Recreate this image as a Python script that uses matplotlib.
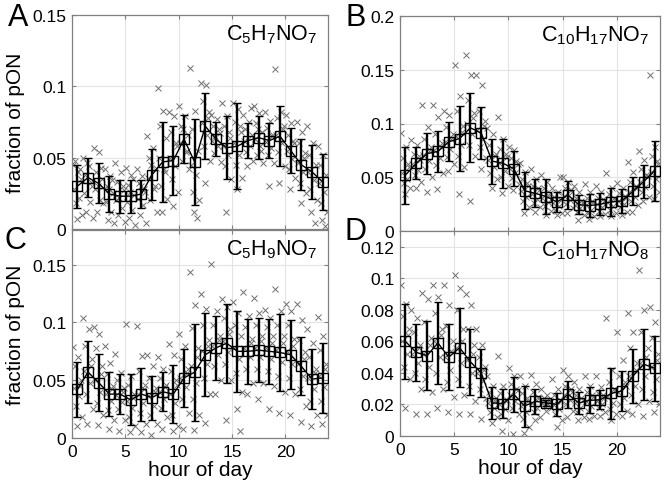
import matplotlib
matplotlib.use("Agg")
import matplotlib.pyplot as plt
import numpy as np

plt.rcParams['font.family'] = ['Liberation Sans', 'DejaVu Sans']
plt.rcParams['mathtext.fontset'] = 'custom'
plt.rcParams['mathtext.rm'] = 'Liberation Sans'
plt.rcParams['mathtext.it'] = 'Liberation Sans:italic'

hours = [h + 0.5 for h in range(24)]

# ---- Panel A: C5H7NO7 ----
A_mean = [0.030, 0.036, 0.032, 0.0245, 0.023, 0.023, 0.0245, 0.038, 0.047, 0.048,
          0.063, 0.047, 0.072, 0.063, 0.057, 0.058, 0.062, 0.064, 0.062, 0.065,
          0.055, 0.045, 0.040, 0.033]
A_std = [0.015, 0.0135, 0.014, 0.0127, 0.0116, 0.0116, 0.010, 0.018, 0.028, 0.0245,
         0.017, 0.030, 0.023, 0.012, 0.022, 0.030, 0.012, 0.015, 0.012, 0.021,
         0.016, 0.018, 0.019, 0.0195]
A_scatter = [
    [0.045, 0.040, 0.048, 0.035, 0.028, 0.022, 0.018, 0.010, 0.007, 0.042],
    [0.050, 0.044, 0.038, 0.030, 0.025, 0.019, 0.012, 0.008, 0.046, 0.033],
    [0.057, 0.054, 0.040, 0.035, 0.028, 0.020, 0.012, 0.018, 0.030, 0.043],
    [0.042, 0.037, 0.030, 0.025, 0.019, 0.012, 0.006, 0.004, 0.028, 0.034],
    [0.046, 0.040, 0.033, 0.027, 0.020, 0.015, 0.010, 0.005, 0.022, 0.030],
    [0.043, 0.038, 0.031, 0.024, 0.019, 0.013, 0.008, 0.003, 0.026, 0.035],
    [0.042, 0.037, 0.032, 0.026, 0.021, 0.017, 0.010, 0.004, 0.030, 0.028],
    [0.065, 0.057, 0.050, 0.043, 0.036, 0.028, 0.020, 0.012, 0.045, 0.030],
    [0.099, 0.083, 0.072, 0.064, 0.050, 0.042, 0.030, 0.021, 0.012, 0.040],
    [0.082, 0.079, 0.068, 0.058, 0.050, 0.044, 0.035, 0.026, 0.016, 0.060],
    [0.086, 0.079, 0.072, 0.066, 0.060, 0.054, 0.048, 0.042, 0.070, 0.055],
    [0.113, 0.083, 0.070, 0.055, 0.045, 0.038, 0.026, 0.020, 0.012, 0.008],
    [0.102, 0.101, 0.090, 0.082, 0.074, 0.066, 0.058, 0.048, 0.032, 0.078],
    [0.080, 0.077, 0.072, 0.067, 0.062, 0.058, 0.053, 0.047, 0.065, 0.070],
    [0.088, 0.079, 0.072, 0.064, 0.058, 0.052, 0.044, 0.035, 0.012, 0.068],
    [0.088, 0.084, 0.075, 0.068, 0.060, 0.052, 0.045, 0.036, 0.028, 0.072],
    [0.080, 0.075, 0.070, 0.066, 0.062, 0.058, 0.054, 0.048, 0.044, 0.085],
    [0.086, 0.081, 0.074, 0.068, 0.063, 0.058, 0.052, 0.046, 0.070, 0.055],
    [0.082, 0.076, 0.071, 0.066, 0.061, 0.057, 0.052, 0.046, 0.030, 0.065],
    [0.112, 0.082, 0.078, 0.072, 0.066, 0.060, 0.054, 0.044, 0.032, 0.070],
    [0.080, 0.074, 0.066, 0.060, 0.055, 0.049, 0.042, 0.036, 0.028, 0.062],
    [0.075, 0.068, 0.060, 0.053, 0.046, 0.040, 0.032, 0.025, 0.018, 0.050],
    [0.072, 0.060, 0.052, 0.045, 0.040, 0.034, 0.028, 0.020, 0.012, 0.004],
    [0.058, 0.052, 0.045, 0.038, 0.032, 0.026, 0.018, 0.012, 0.006, 0.002],
]

# ---- Panel B: C10H17NO7 ----
B_mean = [0.052, 0.063, 0.072, 0.074, 0.083, 0.086, 0.096, 0.091, 0.065, 0.063,
          0.058, 0.0375, 0.035, 0.032, 0.027, 0.0335, 0.0245, 0.0236, 0.025, 0.027,
          0.028, 0.037, 0.046, 0.056]
B_std = [0.0265, 0.015, 0.019, 0.019, 0.018, 0.030, 0.032, 0.024, 0.021, 0.023,
         0.016, 0.017, 0.013, 0.016, 0.009, 0.013, 0.009, 0.011, 0.0105, 0.013,
         0.011, 0.013, 0.0155, 0.028]
B_scatter = [
    [0.091, 0.078, 0.068, 0.060, 0.054, 0.048, 0.045, 0.040, 0.034, 0.062],
    [0.085, 0.080, 0.072, 0.066, 0.062, 0.057, 0.052, 0.046, 0.040, 0.070],
    [0.117, 0.097, 0.086, 0.078, 0.071, 0.065, 0.058, 0.050, 0.036, 0.075],
    [0.117, 0.106, 0.090, 0.082, 0.075, 0.068, 0.061, 0.054, 0.039, 0.078],
    [0.112, 0.108, 0.097, 0.090, 0.083, 0.076, 0.069, 0.062, 0.056, 0.086],
    [0.154, 0.126, 0.112, 0.098, 0.088, 0.080, 0.070, 0.060, 0.034, 0.092],
    [0.164, 0.145, 0.122, 0.110, 0.100, 0.090, 0.080, 0.070, 0.028, 0.105],
    [0.145, 0.136, 0.112, 0.102, 0.094, 0.086, 0.078, 0.068, 0.058, 0.098],
    [0.096, 0.090, 0.080, 0.072, 0.066, 0.060, 0.054, 0.048, 0.040, 0.070],
    [0.106, 0.086, 0.076, 0.069, 0.063, 0.056, 0.050, 0.042, 0.035, 0.072],
    [0.078, 0.075, 0.068, 0.062, 0.058, 0.054, 0.049, 0.044, 0.038, 0.065],
    [0.063, 0.055, 0.048, 0.042, 0.037, 0.032, 0.028, 0.022, 0.017, 0.045],
    [0.058, 0.048, 0.042, 0.038, 0.034, 0.030, 0.026, 0.022, 0.018, 0.040],
    [0.052, 0.046, 0.040, 0.035, 0.031, 0.027, 0.023, 0.019, 0.015, 0.033],
    [0.040, 0.036, 0.032, 0.029, 0.026, 0.023, 0.020, 0.017, 0.015, 0.050],
    [0.050, 0.046, 0.040, 0.036, 0.033, 0.029, 0.025, 0.021, 0.017, 0.038],
    [0.042, 0.036, 0.031, 0.027, 0.024, 0.021, 0.018, 0.015, 0.010, 0.028],
    [0.044, 0.036, 0.031, 0.027, 0.024, 0.020, 0.017, 0.014, 0.011, 0.028],
    [0.042, 0.036, 0.031, 0.028, 0.025, 0.022, 0.019, 0.016, 0.014, 0.030],
    [0.054, 0.040, 0.034, 0.030, 0.027, 0.023, 0.020, 0.017, 0.014, 0.031],
    [0.045, 0.040, 0.035, 0.031, 0.028, 0.025, 0.022, 0.018, 0.015, 0.033],
    [0.064, 0.055, 0.046, 0.040, 0.036, 0.032, 0.028, 0.024, 0.018, 0.042],
    [0.074, 0.066, 0.058, 0.051, 0.046, 0.041, 0.036, 0.032, 0.028, 0.052],
    [0.145, 0.078, 0.070, 0.062, 0.055, 0.048, 0.042, 0.036, 0.030, 0.065],
]

# ---- Panel C: C5H9NO7 ----
C_mean = [0.042, 0.057, 0.048, 0.038, 0.038, 0.033, 0.038, 0.035, 0.040, 0.038,
          0.052, 0.057, 0.072, 0.078, 0.082, 0.075, 0.075, 0.076, 0.075, 0.074,
          0.072, 0.062, 0.051, 0.052]
C_std = [0.024, 0.027, 0.025, 0.019, 0.017, 0.022, 0.023, 0.019, 0.017, 0.025,
         0.025, 0.042, 0.036, 0.028, 0.034, 0.035, 0.028, 0.0275, 0.028, 0.033,
         0.030, 0.025, 0.026, 0.030]
C_scatter = [
    [0.079, 0.070, 0.062, 0.050, 0.043, 0.036, 0.028, 0.018, 0.010, 0.045],
    [0.104, 0.094, 0.080, 0.068, 0.058, 0.048, 0.038, 0.025, 0.012, 0.062],
    [0.096, 0.090, 0.078, 0.062, 0.050, 0.040, 0.030, 0.020, 0.011, 0.055],
    [0.080, 0.065, 0.055, 0.045, 0.038, 0.032, 0.024, 0.016, 0.008, 0.042],
    [0.073, 0.056, 0.050, 0.043, 0.037, 0.031, 0.025, 0.016, 0.006, 0.040],
    [0.099, 0.054, 0.046, 0.038, 0.032, 0.026, 0.018, 0.010, 0.005, 0.035],
    [0.097, 0.071, 0.058, 0.046, 0.038, 0.030, 0.022, 0.012, 0.005, 0.042],
    [0.072, 0.062, 0.052, 0.043, 0.036, 0.028, 0.020, 0.012, 0.003, 0.040],
    [0.070, 0.060, 0.052, 0.046, 0.040, 0.034, 0.026, 0.018, 0.008, 0.044],
    [0.081, 0.072, 0.058, 0.046, 0.038, 0.030, 0.020, 0.010, 0.006, 0.050],
    [0.090, 0.080, 0.068, 0.060, 0.052, 0.044, 0.034, 0.022, 0.008, 0.056],
    [0.144, 0.115, 0.095, 0.078, 0.062, 0.048, 0.034, 0.020, 0.007, 0.070],
    [0.125, 0.112, 0.098, 0.085, 0.075, 0.064, 0.052, 0.038, 0.013, 0.080],
    [0.151, 0.110, 0.098, 0.088, 0.080, 0.072, 0.062, 0.050, 0.038, 0.085],
    [0.120, 0.113, 0.104, 0.094, 0.084, 0.074, 0.064, 0.050, 0.016, 0.090],
    [0.118, 0.108, 0.098, 0.088, 0.078, 0.068, 0.056, 0.040, 0.025, 0.006],
    [0.126, 0.106, 0.096, 0.086, 0.078, 0.070, 0.060, 0.048, 0.038, 0.082],
    [0.121, 0.108, 0.098, 0.088, 0.078, 0.070, 0.060, 0.048, 0.034, 0.084],
    [0.111, 0.104, 0.096, 0.088, 0.078, 0.068, 0.058, 0.045, 0.025, 0.082],
    [0.129, 0.110, 0.098, 0.088, 0.076, 0.066, 0.054, 0.040, 0.022, 0.082],
    [0.116, 0.110, 0.098, 0.086, 0.075, 0.064, 0.052, 0.038, 0.020, 0.080],
    [0.116, 0.102, 0.085, 0.074, 0.064, 0.054, 0.042, 0.028, 0.014, 0.068],
    [0.094, 0.082, 0.070, 0.060, 0.052, 0.042, 0.032, 0.020, 0.010, 0.056],
    [0.105, 0.088, 0.076, 0.064, 0.054, 0.044, 0.032, 0.020, 0.012, 0.060],
]

# ---- Panel D: C10H17NO8 ----
D_mean = [0.060, 0.053, 0.051, 0.059, 0.050, 0.056, 0.047, 0.040, 0.021, 0.0205,
          0.0265, 0.019, 0.022, 0.021, 0.020, 0.0265, 0.021, 0.0226, 0.023, 0.027,
          0.0286, 0.038, 0.0455, 0.043]
D_std = [0.024, 0.018, 0.022, 0.026, 0.021, 0.025, 0.021, 0.015, 0.010, 0.009,
         0.011, 0.013, 0.008, 0.002, 0.007, 0.0085, 0.007, 0.0083, 0.006, 0.016,
         0.0125, 0.017, 0.0225, 0.0205]
D_scatter = [
    [0.096, 0.084, 0.076, 0.068, 0.060, 0.052, 0.044, 0.036, 0.018, 0.064],
    [0.080, 0.075, 0.066, 0.058, 0.052, 0.046, 0.040, 0.030, 0.014, 0.056],
    [0.091, 0.087, 0.072, 0.062, 0.052, 0.044, 0.036, 0.028, 0.014, 0.058],
    [0.096, 0.088, 0.078, 0.068, 0.060, 0.050, 0.040, 0.030, 0.018, 0.064],
    [0.096, 0.083, 0.070, 0.060, 0.050, 0.042, 0.034, 0.025, 0.015, 0.054],
    [0.102, 0.094, 0.080, 0.068, 0.056, 0.046, 0.036, 0.026, 0.014, 0.060],
    [0.090, 0.083, 0.068, 0.058, 0.048, 0.040, 0.032, 0.022, 0.014, 0.052],
    [0.068, 0.058, 0.050, 0.044, 0.040, 0.035, 0.030, 0.024, 0.011, 0.042],
    [0.038, 0.032, 0.028, 0.024, 0.021, 0.018, 0.015, 0.012, 0.008, 0.022],
    [0.051, 0.032, 0.027, 0.023, 0.020, 0.017, 0.014, 0.010, 0.003, 0.022],
    [0.043, 0.038, 0.033, 0.029, 0.026, 0.022, 0.018, 0.014, 0.001, 0.030],
    [0.038, 0.032, 0.027, 0.022, 0.019, 0.015, 0.011, 0.006, 0.002, 0.024],
    [0.039, 0.033, 0.028, 0.024, 0.021, 0.018, 0.015, 0.012, 0.010, 0.025],
    [0.030, 0.026, 0.024, 0.022, 0.021, 0.020, 0.019, 0.018, 0.016, 0.023],
    [0.036, 0.030, 0.026, 0.022, 0.020, 0.017, 0.014, 0.010, 0.006, 0.023],
    [0.042, 0.038, 0.032, 0.028, 0.026, 0.023, 0.020, 0.016, 0.012, 0.030],
    [0.034, 0.030, 0.026, 0.023, 0.021, 0.018, 0.015, 0.012, 0.010, 0.024],
    [0.038, 0.032, 0.028, 0.025, 0.022, 0.019, 0.016, 0.013, 0.011, 0.026],
    [0.038, 0.031, 0.027, 0.024, 0.022, 0.020, 0.018, 0.015, 0.013, 0.026],
    [0.075, 0.042, 0.034, 0.029, 0.025, 0.021, 0.017, 0.014, 0.010, 0.030],
    [0.066, 0.048, 0.038, 0.032, 0.028, 0.024, 0.020, 0.016, 0.013, 0.034],
    [0.078, 0.066, 0.056, 0.046, 0.038, 0.032, 0.026, 0.020, 0.014, 0.042],
    [0.105, 0.080, 0.066, 0.056, 0.046, 0.038, 0.030, 0.022, 0.013, 0.050],
    [0.082, 0.072, 0.062, 0.052, 0.044, 0.036, 0.028, 0.020, 0.015, 0.048],
]

titles = [r'$\mathrm{C_5H_7NO_7}$', r'$\mathrm{C_{10}H_{17}NO_7}$',
          r'$\mathrm{C_5H_9NO_7}$', r'$\mathrm{C_{10}H_{17}NO_8}$']
letters = ['A', 'B', 'C', 'D']
ylims = [0.15, 0.2, 0.18, 0.13]
yticks = [[0, 0.05, 0.1, 0.15], [0, 0.05, 0.1, 0.15, 0.2],
          [0, 0.05, 0.1, 0.15], [0, 0.02, 0.04, 0.06, 0.08, 0.1, 0.12]]
xticks = [0, 5, 10, 15, 20]

W, H = 667, 485
fig = plt.figure(figsize=(W / 100, H / 100), dpi=100)

# axes boxes in pixels: left, top, right, bottom
boxes = [(72, 16, 328, 230), (400, 17, 660, 232),
         (72, 231, 328, 439), (400, 232, 660, 437)]
letter_pos = [(8, 3), (345, 3), (4, 226), (344, 217)]

offsets = [0.05, 0.55, 0.25, 0.85, 0.15, 0.65, 0.35, 0.95, 0.45, 0.75]

data = [(A_mean, A_std, A_scatter), (B_mean, B_std, B_scatter),
        (C_mean, C_std, C_scatter), (D_mean, D_std, D_scatter)]

for i, (mean, std, scat) in enumerate(data):
    l, t, r, b = boxes[i]
    ax = fig.add_axes([l / W, (H - b) / H, (r - l) / W, (b - t) / H])
    sx, sy = [], []
    for h, vals in enumerate(scat):
        for j, v in enumerate(vals):
            sx.append(h + offsets[j % len(offsets)])
            sy.append(v)
    ax.plot(sx, sy, 'x', color='#707070', ms=4, mew=0.7, zorder=2)
    ax.errorbar(hours, mean, yerr=std, fmt='-s', color='k', mfc='none', mec='k',
                ms=6.5, mew=1.0, lw=1.0, elinewidth=1.7, capsize=3, capthick=1.7,
                zorder=3)
    ax.set_xlim(0, 24)
    ax.set_ylim(0, ylims[i])
    ax.set_xticks(xticks)
    ax.set_yticks(yticks[i])
    ax.set_yticklabels(['%g' % v for v in yticks[i]])
    ax.grid(True, color='#e3e3e3', lw=0.8)
    ax.set_axisbelow(True)
    for s in ax.spines.values():
        s.set_color('#808080')
        s.set_linewidth(0.9)
    ax.tick_params(direction='in', length=3, color='#808080', top=True, right=True,
                   labelsize=12.5, pad=4)
    if i < 2:
        ax.set_xticklabels([])
    else:
        ax.set_xlabel('hour of day', fontsize=15, labelpad=1)
    if i % 2 == 0:
        ax.set_ylabel('fraction of pON', fontsize=15, labelpad=5)
    ax.text(0.96, 0.965, titles[i], transform=ax.transAxes, ha='right', va='top',
            fontsize=15.5)
    lx, ly = letter_pos[i]
    fig.text(lx / W, 1 - ly / H, letters[i], ha='left', va='top', fontsize=22)

fig.savefig('out.png', dpi=100)
